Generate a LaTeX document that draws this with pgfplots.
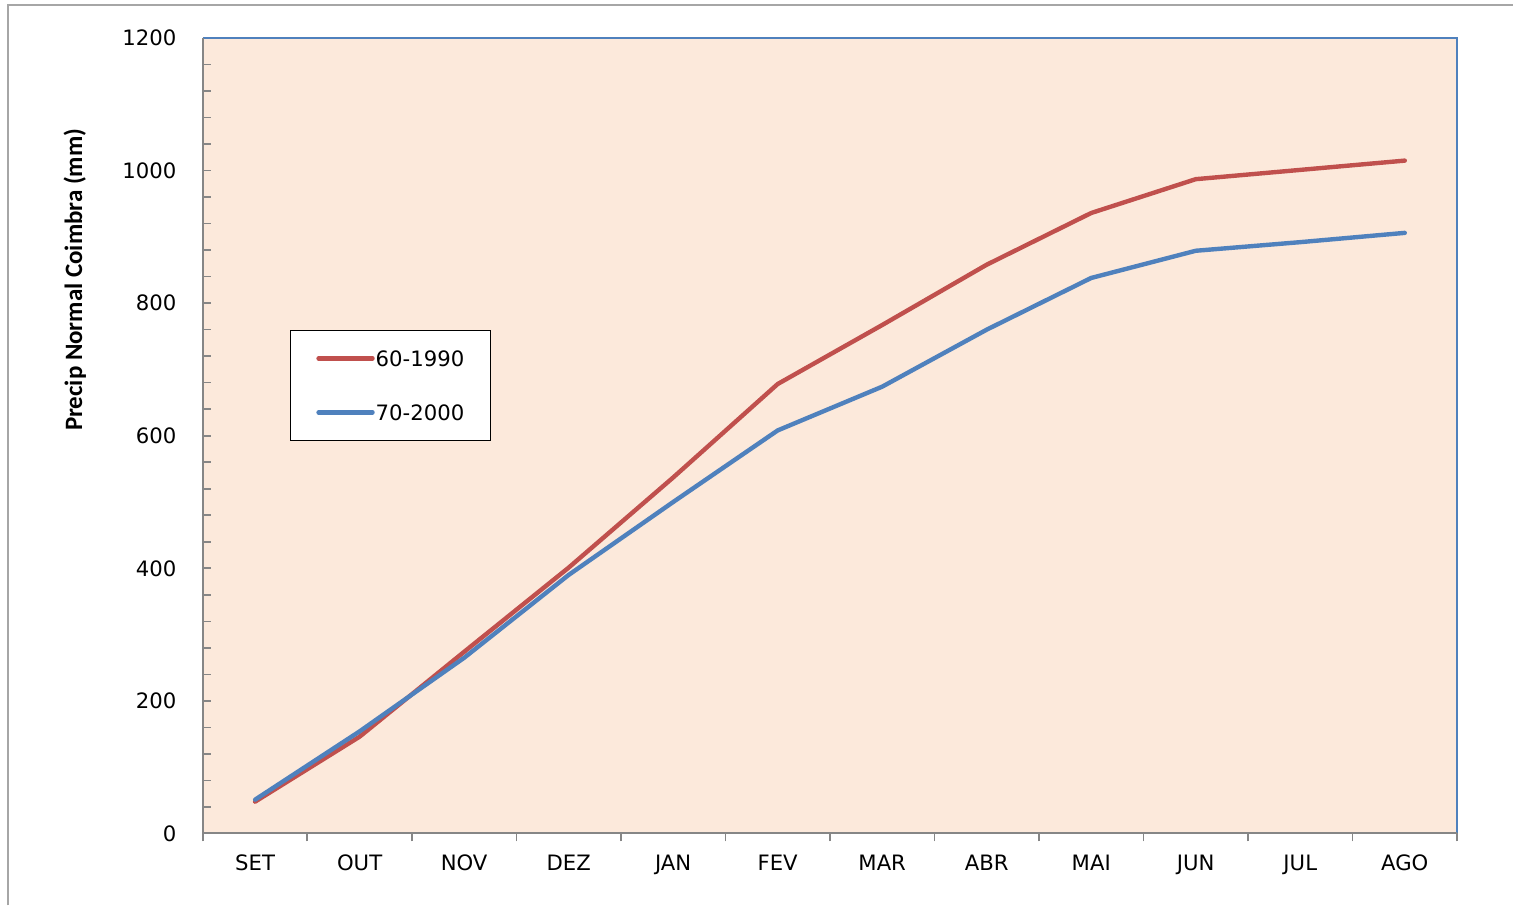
\documentclass[border=0pt]{standalone}
\usepackage{fontspec}
\setmainfont{DejaVu Sans}
\newfontfamily\labelfont{Carlito}
\usepackage{pgfplots}
\pgfplotsset{compat=1.18}

\definecolor{serred}{HTML}{C0504D}
\definecolor{serblue}{HTML}{4F81BD}
\definecolor{plotbg}{HTML}{FCE9DB}
\definecolor{axisgray}{HTML}{868686}
\definecolor{framegray}{HTML}{A6A6A6}

\pgfplotstableread{
x  a     b
0.5 48   51
1.5 146  154
2.5 274  265
3.5 401  390
4.5 537  500
5.5 678  608
6.5 767  674
7.5 858  760
8.5 936  838
9.5 987  879
10.5 1001 892
11.5 1015 906
}\precip

\begin{document}
\fontsize{10.6}{13}\selectfont
\begin{tikzpicture}
\begin{axis}[
  scale only axis,
  width=627.5pt, height=398pt,
  xmin=0, xmax=12, ymin=0, ymax=1200,
  axis background/.style={fill=plotbg},
  axis line style={draw=none},
  tick pos=left,
  tick align=inside,
  xtick={0.5,1.5,...,11.5},
  xticklabels={SET,OUT,NOV,DEZ,JAN,FEV,MAR,ABR,MAI,JUN,JUL,AGO},
  major x tick style={draw=none},
  minor xtick={0,1,...,12},
  minor x tick style={draw=axisgray, line width=0.9pt, yshift=-4pt},
  minor tick length=4pt,
  major tick length=4pt,
  ytick={0,200,...,1200},
  minor ytick={40,80,...,1160},
  y tick style={draw=axisgray, line width=0.8pt},
  minor y tick style={draw=axisgray, line width=0.8pt},
  /pgf/number format/assume math mode=true,
  /pgf/number format/1000 sep={},
  tick label style={font=\fontsize{10.6}{13}\selectfont},
  yticklabel style={xshift=-9.5pt},
  xticklabel style={yshift=-7pt},
  ylabel={Precip Normal Coimbra (mm)},
  ylabel style={at={(rel axis cs:-0.102,0.696)}, anchor=center, font=\labelfont\bfseries\fontsize{12.5}{14}\selectfont},
  legend cell align=left,
  legend style={at={(rel axis cs:0.0693,0.633)}, anchor=north west,
    draw=black, line width=0.6pt, fill=white,
    inner xsep=13pt, inner ysep=10.1pt, row sep=19.3pt, column sep=0.5pt,
    font=\fontsize{10.6}{13}\selectfont,
    nodes={inner sep=0pt, text height=7.7pt, text depth=0pt}},
  legend image code/.code={\draw[#1] (0pt,0pt) -- (27pt,0pt);},
  clip=false,
]
\addplot[serred, line width=2.2pt, line join=round, line cap=round] table[x=x, y=a] {\precip};
\addlegendentry{60-1990}
\addplot[serblue, line width=2.2pt, line join=round, line cap=round] table[x=x, y=b] {\precip};
\addlegendentry{70-2000}
\coordinate (sw) at (rel axis cs:0,0);
\coordinate (ne) at (rel axis cs:1,1);
\end{axis}
\draw[serblue, line width=0.7pt] (sw |- ne) -- (ne) -- (ne |- sw);
\draw[axisgray, line width=1pt] (sw |- ne) -- (sw) -- (ne |- sw);
\pgfresetboundingbox
\path ([shift={(-101.5pt,-36pt)}]sw) coordinate (bsw) rectangle ([shift={(28pt,19pt)}]ne) coordinate (bne);
\draw[framegray, line width=1pt] ([shift={(4pt,0pt)}]bsw) -- ([shift={(4pt,-2.5pt)}]bsw |- bne) -- ([yshift=-2.5pt]bne);
\end{tikzpicture}
\end{document}
